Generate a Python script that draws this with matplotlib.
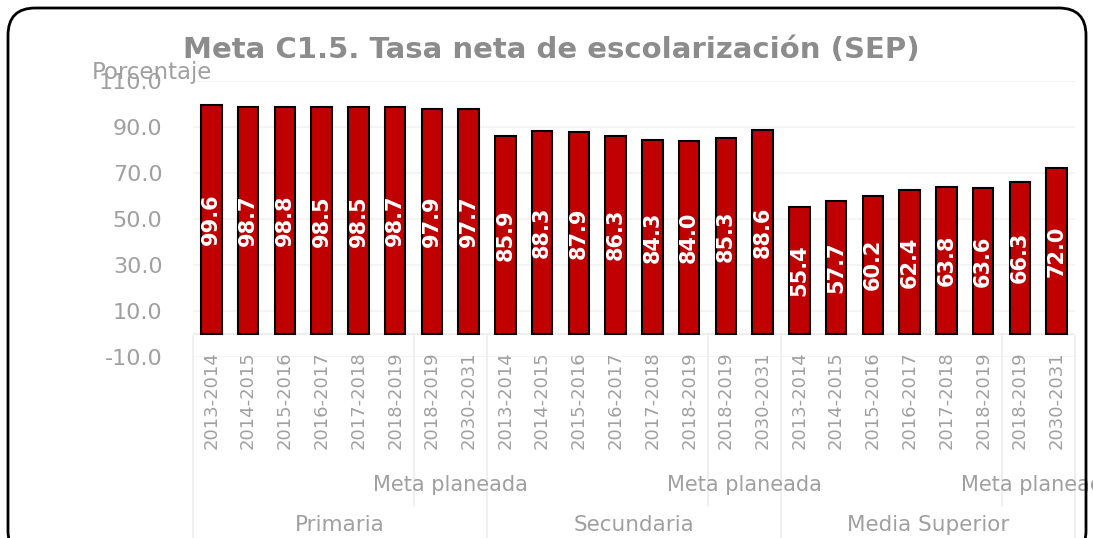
import numpy as np
import matplotlib.pyplot as plt
from matplotlib.patches import FancyBboxPatch

titulo = "Meta C1.5. Tasa neta de escolarización (SEP)"
niveles = ["Primaria", "Secundaria", "Media Superior"]
ciclos = ["2013-2014", "2014-2015", "2015-2016", "2016-2017",
          "2017-2018", "2018-2019", "2018-2019", "2030-2031"]
subgrupo = "Meta planeada"
primaria = [99.6, 98.7, 98.8, 98.5, 98.5, 98.7, 97.9, 97.7]
secundaria = [85.9, 88.3, 87.9, 86.3, 84.3, 84.0, 85.3, 88.6]
media_sup = [55.4, 57.7, 60.2, 62.4, 63.8, 63.6, 66.3, 72.0]

valores = primaria + secundaria + media_sup
n = len(ciclos)
x = np.arange(len(valores))

gris = "#a0a0a0"
linea = "#ececec"

fig = plt.figure(figsize=(10.93, 5.38), dpi=100)
ax = fig.add_axes([193 / 1093, 1 - 357 / 538, (1075 - 193) / 1093, 276 / 538])

ax.bar(x, valores, width=0.56, color="#C00000", edgecolor="black", linewidth=1.5, zorder=3)
for xi, v in zip(x, valores):
    ax.text(xi, v / 2, f"{v:.1f}", rotation=90, ha="center", va="center",
            color="white", fontsize=15, fontweight="bold", zorder=4)

ax.set_xlim(-0.5, len(valores) - 0.5)
ax.set_ylim(-10, 110)
ax.set_yticks(np.arange(-10, 111, 20))
ax.set_yticklabels([f"{t:.1f}" for t in np.arange(-10, 111, 20)])
ax.tick_params(axis="y", length=0, pad=22, labelsize=16, labelcolor=gris)
ax.set_xticks([])
ax.grid(axis="y", color="#f2f2f2", linewidth=1.2, zorder=0)
for s in ax.spines.values():
    s.set_visible(False)
ax.axhline(0, color=linea, linewidth=1.2, zorder=1)

tr = ax.get_xaxis_transform()
for g, nivel in enumerate(niveles):
    base = g * n
    for i, c in enumerate(ciclos):
        ax.text(base + i, 0.022, c, rotation=90, ha="center", va="top",
                fontsize=13, color=gris, transform=tr, clip_on=False)
    ax.text(base + 6.5, -0.464, subgrupo, ha="center", va="center",
            fontsize=15, color=gris, transform=tr, clip_on=False)
    ax.text(base + 3.5, -0.609, nivel, ha="center", va="center",
            fontsize=15.5, color=gris, transform=tr, clip_on=False)
    ax.plot([base + 5.5, base + 5.5], [0.076, -0.54], color=linea,
            linewidth=1.2, transform=tr, clip_on=False)
for b in range(len(niveles) + 1):
    ax.plot([b * n - 0.5, b * n - 0.5], [0.076, -0.7], color=linea,
            linewidth=1.2, transform=tr, clip_on=False)

fig.text(551 / 1093, 1 - 50 / 538, titulo, ha="center", va="center",
         fontsize=21, fontweight="bold", color="#8c8c8c")
fig.text(92 / 1093, 1 - 73 / 538, "Porcentaje", ha="left", va="center",
         fontsize=16.5, color=gris)

borde = FancyBboxPatch((8 / 1093, -20 / 538), 1078 / 1093, 550 / 538,
                       boxstyle="round,pad=0,rounding_size=0.025",
                       transform=fig.transFigure, fill=False,
                       edgecolor="black", linewidth=2, mutation_aspect=1093 / 538)
fig.patches.append(borde)

fig.savefig("out.png", dpi=100)
